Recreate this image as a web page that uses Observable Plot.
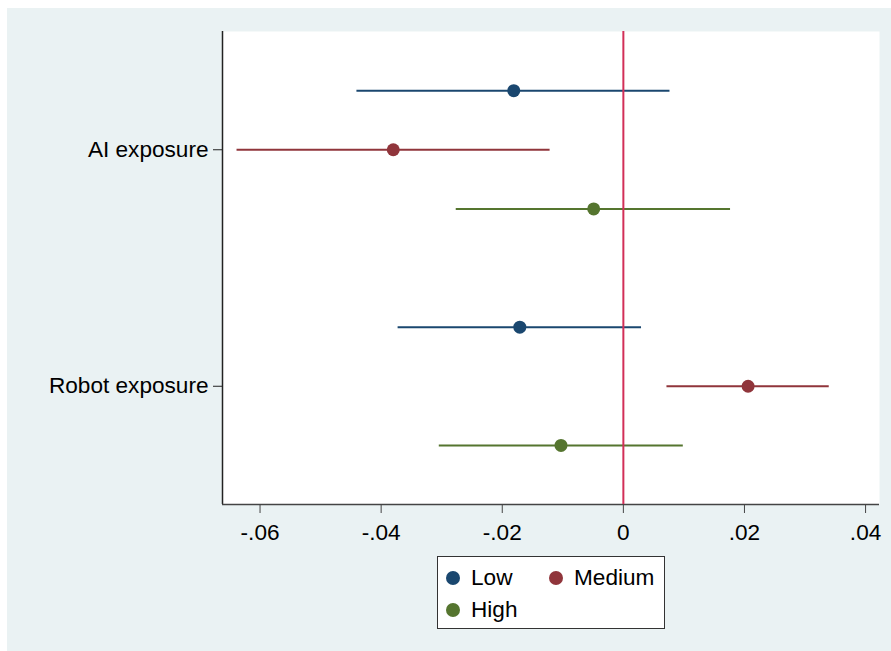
<!DOCTYPE html>
<html>
<head>
<meta charset="utf-8">
<script src="https://cdn.jsdelivr.net/npm/d3@7"></script>
<script src="https://cdn.jsdelivr.net/npm/@observablehq/plot@0.6"></script>
<style>
  html, body { margin: 0; padding: 0; background: #ffffff; }
  #wrap { position: absolute; left: 7px; top: 8px; width: 884px; height: 643px; background: #eaf2f3;
          font-family: "Liberation Sans", Arial, sans-serif; }
  #wrap svg { display: block; }
  #legend { position: absolute; left: 430px; top: 548px; width: 226px; height: 71px; background: #fff;
            border: 1px solid #333; }
  .sw { position: absolute; width: 14px; height: 14px; border-radius: 50%; }
  .lt { position: absolute; font-size: 22.6px; line-height: 22px; color: #000; }
</style>
</head>
<body>
<div id="wrap"></div>
<script>
const exposures = ["AI exposure", "Robot exposure"];
const groups = ["Low", "Medium", "High"];
const groupColors = ["#1a476f", "#90353b", "#55752f"];

// point estimates per group, in order of exposures
const estLow    = [-0.0181, -0.0171];
const estMedium = [-0.0380,  0.0206];
const estHigh   = [-0.0049, -0.0103];
// confidence interval bounds
const ciLowLo    = [-0.0440, -0.0372];
const ciLowHi    = [ 0.0077,  0.0030];
const ciMediumLo = [-0.0638,  0.0072];
const ciMediumHi = [-0.0121,  0.0340];
const ciHighLo   = [-0.0276, -0.0304];
const ciHighHi   = [ 0.0177,  0.0099];

const xTicks = [-0.06, -0.04, -0.02, 0, 0.02, 0.04];

const est = [estLow, estMedium, estHigh];
const lo = [ciLowLo, ciMediumLo, ciHighLo];
const hi = [ciLowHi, ciMediumHi, ciHighHi];

const rows = [];
exposures.forEach((e, i) => {
  groups.forEach((g, j) => {
    rows.push({exposure: e, group: g, pos: i * 4 + j + 1, b: est[j][i], lo: lo[j][i], hi: hi[j][i]});
  });
});
const yTicks = exposures.map((e, i) => i * 4 + 2);

const xDomain = [-0.0662, 0.0423];
const fmt = d => d === 0 ? "0" : d3.format(".2f")(d).replace("\u2212", "-").replace("0.", ".");

const chart = Plot.plot({
  width: 884,
  height: 537,
  marginLeft: 215,
  marginTop: 23,
  marginRight: 12,
  marginBottom: 41,
  style: {background: "transparent", fontSize: "22.6px", fontFamily: "'Liberation Sans', Arial, sans-serif", color: "#222"},
  x: {domain: xDomain, ticks: xTicks, tickFormat: fmt},
  y: {domain: [0, 8], reverse: true, ticks: yTicks, tickFormat: d => exposures[(d - 2) / 4]},
  color: {domain: groups, range: groupColors},
  marks: [
    Plot.frame({fill: "white", stroke: null}),
    Plot.ruleX([xDomain[0]], {stroke: "#222", strokeWidth: 1.5}),
    Plot.ruleY([8], {stroke: "#444", strokeWidth: 1.5}),
    Plot.axisX({ticks: xTicks, tickFormat: fmt, tickSize: 9, tickPadding: 10, label: null, fill: "#000", stroke: "#444"}),
    Plot.axisY({ticks: yTicks, tickFormat: d => exposures[(d - 2) / 4], tickSize: 9, tickPadding: 5, label: null, fill: "#000", stroke: "#222"}),
    Plot.ruleY(rows, {y: "pos", x1: "lo", x2: "hi", stroke: "group", strokeWidth: 2}),
    Plot.ruleX([0], {stroke: "#d22f58", strokeWidth: 2}),
    Plot.dot(rows, {x: "b", y: "pos", fill: "group", r: 6.5, stroke: null})
  ]
});
const wrap = document.getElementById("wrap");
wrap.appendChild(chart);

// legend
const legend = document.createElement("div");
legend.id = "legend";
const pos = [[15, 21], [118, 21], [15, 53]];
groups.forEach((g, j) => {
  const sw = document.createElement("span");
  sw.className = "sw";
  sw.style.background = groupColors[j];
  sw.style.left = (pos[j][0] - 7) + "px";
  sw.style.top = (pos[j][1] - 7) + "px";
  legend.appendChild(sw);
  const t = document.createElement("span");
  t.className = "lt";
  t.textContent = g;
  t.style.left = (pos[j][0] + 18) + "px";
  t.style.top = (pos[j][1] - 11) + "px";
  legend.appendChild(t);
});
wrap.appendChild(legend);
</script>
</body>
</html>
